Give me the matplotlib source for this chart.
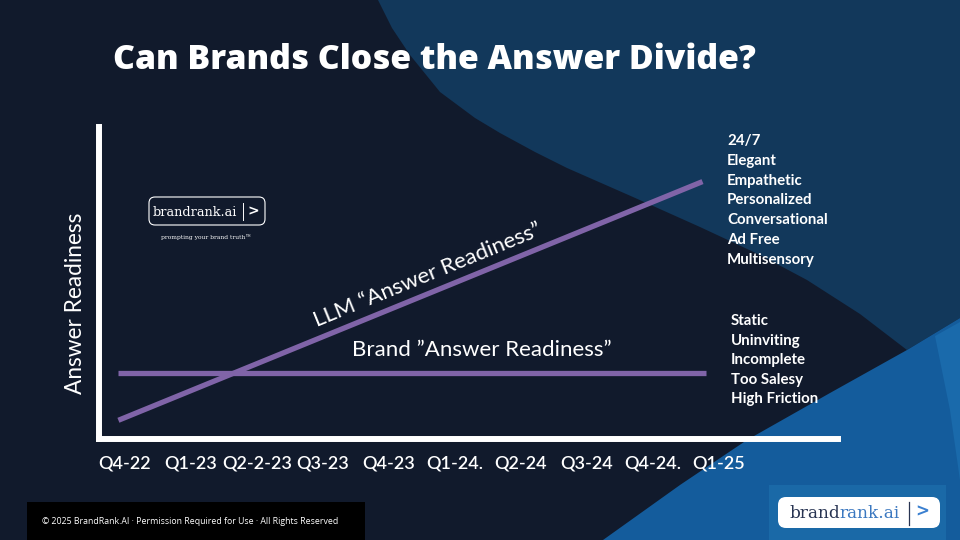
import matplotlib.pyplot as plt
from matplotlib.patches import Polygon, Rectangle, FancyBboxPatch
import numpy as np

quarters = ['Q4-22', 'Q1-23', 'Q2-2-23', 'Q3-23', 'Q4-23',
            'Q1-24.', 'Q2-24', 'Q3-24', 'Q4-24.', 'Q1-25']
llm_x = [-0.1, 8.75]
llm_y = [6.0, 82.5]
brand_x = [-0.1, 8.8]
brand_y = [21.3, 21.3]
strengths = ['24/7', 'Elegant', 'Empathetic', 'Personalized',
             'Conversational', 'Ad Free', 'Multisensory']
weaknesses = ['Static', 'Uninviting', 'Incomplete', 'Too Salesy', 'High Friction']

NAVY = '#111a2c'
PURPLE = '#8064a8'
SANS = ['Lato', 'DejaVu Sans']

fig = plt.figure(figsize=(9.6, 5.4), dpi=100)
fig.patch.set_facecolor(NAVY)

# background layer in pixel coords
bg = fig.add_axes([0, 0, 1, 1])
bg.set_xlim(0, 960)
bg.set_ylim(540, 0)
bg.axis('off')

top_curve = [(378, 0), (392, 28), (410, 55), (440, 92), (475, 118), (500, 133),
             (535, 152), (567, 168), (633, 197), (700, 227), (760, 255),
             (807, 280), (860, 314), (907, 350), (960, 318), (960, 0)]
bg.add_patch(Polygon(top_curve, closed=True, color='#12385b', lw=0))
blue_part = [(907, 350), (960, 318), (960, 540), (603, 540), (680, 485),
             (747, 440), (830, 393)]
bg.add_patch(Polygon(blue_part, closed=True, color='#145c9c', lw=0))
light_part = [(935, 336), (960, 322), (960, 480), (950, 410)]
bg.add_patch(Polygon(light_part, closed=True, color='#1a6aab', lw=0))

bg.text(113, 60, 'Can Brands Close the Answer Divide?', color='white',
        fontsize=24.3, fontweight='heavy', family=['Open Sans', 'DejaVu Sans'],
        va='center', ha='left')

# footer
bg.add_patch(Rectangle((27, 502), 338, 38, color='black', lw=0))
bg.text(42, 521, '\u00a9 2025 BrandRank.AI \u00b7 Permission Required for Use \u00b7 All Rights Reserved',
        color='white', fontsize=6.3, family=['Open Sans', 'DejaVu Sans'], va='center')

# small logo (top left)
bg.add_patch(FancyBboxPatch((149, 197), 116, 28, boxstyle='round,pad=0,rounding_size=6',
                            fc='none', ec='white', lw=0.8))
bg.text(153, 212, 'brandrank.ai', color='white', fontsize=9.3,
        family='DejaVu Serif', va='center', ha='left')
bg.plot([243, 243], [203, 220], color='white', lw=0.7)
bg.text(253, 211, '>', color='white', fontsize=10, fontweight='bold',
        family='DejaVu Sans', va='center', ha='center')
bg.text(206, 237, 'prompting your brand truth\u2122', color='white', fontsize=4.3,
        family='DejaVu Serif', va='center', ha='center')

# big logo (bottom right)
bg.add_patch(Rectangle((769, 485), 177, 55, color='#1a69a7', lw=0))
bg.add_patch(FancyBboxPatch((778, 497), 162, 31, boxstyle='round,pad=0,rounding_size=8',
                            fc='white', ec='none'))
t2 = bg.text(789, 514, 'brand', color='#283452', fontsize=12.2,
             family='DejaVu Serif', va='center', ha='left')
bg.annotate('rank.ai', xy=(1, 0.5), xycoords=t2, va='center', ha='left',
            color='#3b78c0', fontsize=12.2, family='DejaVu Serif')
bg.plot([909, 909], [502, 525], color='#283452', lw=0.9)
bg.text(922, 512, '>', color='#3b80d0', fontsize=12, fontweight='bold',
        family='DejaVu Sans', va='center', ha='center')

# right side lists
for i, s in enumerate(strengths):
    bg.text(727, 141 + i * 19.8, s, color='white', fontsize=10.8, fontweight='bold',
            family=SANS, va='center', ha='left')
for i, s in enumerate(weaknesses):
    bg.text(731, 321 + i * 19.6, s, color='white', fontsize=10.8, fontweight='bold',
            family=SANS, va='center', ha='left')

bg.text(75, 303, 'Answer Readiness', color='white', fontsize=16.3, rotation=90,
        family=SANS, va='center', ha='center')

# chart
ax = fig.add_axes([99 / 960, (540 - 439) / 540, (838 - 99) / 960, (439 - 127) / 540])
ax.patch.set_alpha(0)
ax.set_xlim(-0.394, 10.803)
ax.set_ylim(0, 100)
for side in ['top', 'right']:
    ax.spines[side].set_visible(False)
for side in ['left', 'bottom']:
    ax.spines[side].set_color('white')
    ax.spines[side].set_linewidth(4.3)
    ax.spines[side].set_capstyle('projecting')
ax.set_yticks([])
ax.set_xticks(range(len(quarters)))
ax.set_xticklabels(quarters, color='white', fontsize=13, fontweight='semibold', family=SANS)
ax.tick_params(axis='x', length=0, pad=12)

ax.plot(llm_x, llm_y, color=PURPLE, lw=3.8, solid_capstyle='butt')
ax.plot(brand_x, brand_y, color=PURPLE, lw=3.8, solid_capstyle='butt')

p0, p1 = ax.transData.transform([(llm_x[0], llm_y[0]), (llm_x[1], llm_y[1])])
angle = np.degrees(np.arctan2(p1[1] - p0[1], p1[0] - p0[0]))
ax.text(4.58, 52.6, 'LLM \u201cAnswer Readiness\u201d', color='white', fontsize=16,
        family=SANS, rotation=angle, rotation_mode='anchor', ha='center', va='center')
ax.text(5.41, 28.5, 'Brand \u201dAnswer Readiness\u201d', color='white', fontsize=16,
        family=SANS, ha='center', va='center')

fig.savefig('out.png', dpi=100, facecolor=fig.get_facecolor())
